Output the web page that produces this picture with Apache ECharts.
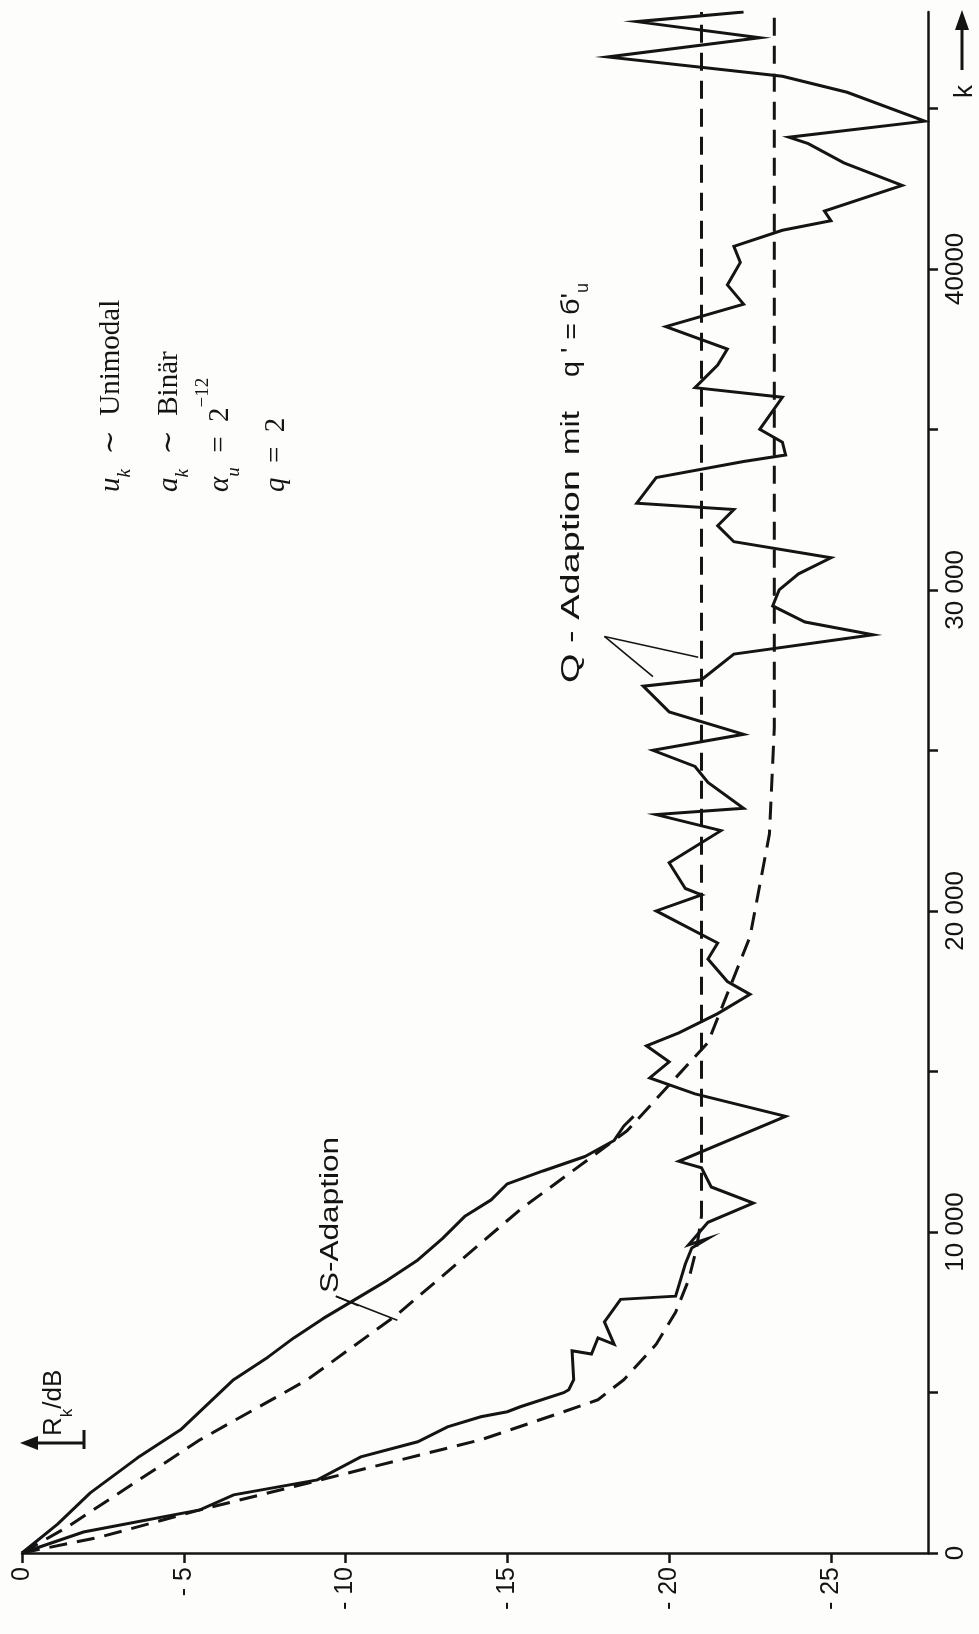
<!DOCTYPE html>
<html>
<head>
<meta charset="utf-8">
<script src="https://cdn.jsdelivr.net/npm/echarts@6/dist/echarts.min.js"></script>
<style>
html, body { margin: 0; padding: 0; background: #fff; }
#chart { width: 979px; height: 1634px; }
</style>
</head>
<body>
<div id="chart"></div>
<script>
// axis ticks
var rTicks = [0, -5, -10, -15, -20, -25];
var kTicks = [0, 5000, 10000, 15000, 20000, 25000, 30000, 35000, 40000, 45000];
var kLabelValues = [0, 10000, 20000, 30000, 40000];
var kLabelTexts = ['0', '10 000', '20 000', '30 000', '40000'];

// [k, R_k in dB]
var sMeasured = [
	[0, 0], [900, -1.1], [1872, -2.11], [2964, -3.57], [3838, -4.9], [5398, -6.54],
	[6100, -7.6], [6700, -8.4], [7300, -9.3], [7900, -10.3], [8500, -11.3], [9100, -12.2],
	[9800, -13.0], [10500, -13.7], [11000, -14.5], [11500, -15.0], [11900, -16.1],
	[12350, -17.4], [12850, -18.3], [13300, -18.6], [13600, -18.9]
];
var sTheory = [
	[0, 0], [811, -1.4], [3526, -5.5], [5398, -8.82], [7430, -11.6], [10700, -15.4],
	[13150, -18.7], [15900, -21.2], [19200, -22.5], [22400, -23.1], [25700, -23.25], [48000, -23.25]
];
var qMeasured = [
	[0, 0], [655, -1.9], [1342, -5.5], [1810, -6.54], [2278, -9.13], [2995, -10.47],
	[3463, -12.23], [3931, -13.15], [4243, -14.18], [4399, -15.0], [4555, -15.4],
	[4992, -16.74], [5086, -16.9], [5400, -17.05], [6300, -17.0], [6200, -17.6], [6700, -17.8],
	[6500, -18.3], [7200, -18.0], [7900, -18.5], [8000, -20.2], [9000, -20.5], [9500, -20.7],
	[9800, -21.2], [9600, -20.6], [10300, -21.2], [10900, -22.6], [11400, -21.3], [12000, -21.0],
	[12200, -20.3], [13600, -23.6], [14300, -20.8], [14800, -19.4], [15300, -20.0], [15800, -19.3],
	[16200, -20.3], [16800, -21.5], [17400, -22.5], [17800, -21.8], [18500, -21.2], [19000, -21.5],
	[20000, -19.6], [20500, -21.0], [20700, -20.5], [21500, -20.0], [22500, -21.6], [23000, -19.6],
	[23200, -22.3], [24000, -21.2], [24500, -20.8], [25000, -19.5], [25500, -22.3], [26200, -20.0],
	[27000, -19.2], [27200, -21.0], [28000, -22.0], [28600, -26.3], [29000, -24.2], [29500, -23.2],
	[30000, -23.4], [30500, -24.0], [31000, -25.0], [31500, -22.0], [32000, -21.5], [32500, -22.0],
	[32700, -19.0], [33500, -19.6], [34000, -22.3], [34200, -23.6], [34600, -23.5], [35000, -22.8],
	[36000, -23.5], [36300, -20.8], [37000, -21.5], [37500, -21.8], [38200, -19.9], [38900, -22.3],
	[39500, -21.8], [40200, -22.2], [40700, -22.0], [41200, -23.5], [41500, -25.0], [41800, -24.8],
	[42600, -27.2], [43300, -25.4], [43900, -24.3], [44100, -23.7], [44600, -27.9], [45500, -25.5],
	[46000, -23.5], [46600, -18.1], [47200, -22.8], [47700, -19.0], [48000, -22.3]
];
var qTheory = [
	[0, 0], [499, -2.42], [1342, -5.5], [2278, -9.23], [2902, -11.7], [3526, -14.18],
	[4399, -16.74], [4774, -17.8], [5398, -18.6], [6500, -19.6], [7500, -20.2], [8500, -20.6],
	[9500, -20.85], [10500, -21.0], [48000, -21.0]
];

var ink = '#141414';
var sans = 'Liberation Sans, Arial, sans-serif';
var serif = 'Liberation Serif, DejaVu Serif, serif';

function toXY(arr) {
	return arr.map(function (p) { return [p[1], p[0]]; });
}

var chartDom = document.getElementById('chart');
var myChart = echarts.init(chartDom, null, { renderer: 'canvas' });

var option = {
	backgroundColor: '#fdfdfc',
	animation: false,
	grid: { left: 22, right: 51, top: 12, bottom: 81 },
	xAxis: {
		type: 'value',
		min: -28,
		max: 0,
		inverse: true,
		position: 'bottom',
		axisLine: { onZero: false, lineStyle: { color: ink, width: 2.5 } },
		axisTick: { customValues: rTicks, length: 10, lineStyle: { color: ink, width: 2.5 } },
		axisLabel: {
			customValues: rTicks,
			rotate: 90,
			margin: 14,
			color: ink,
			fontFamily: sans,
			fontSize: 25,
			formatter: function (v) { return v === 0 ? '0' : '- ' + Math.abs(v); }
		},
		splitLine: { show: false }
	},
	yAxis: {
		type: 'value',
		min: 0,
		max: 48000,
		position: 'right',
		axisLine: { onZero: false, lineStyle: { color: ink, width: 2.5 } },
		axisTick: { customValues: kTicks, length: 10, lineStyle: { color: ink, width: 2.5 } },
		axisLabel: {
			customValues: kLabelValues,
			rotate: 90,
			margin: 15,
			color: ink,
			fontFamily: sans,
			fontSize: 26,
			formatter: function (v) { return kLabelTexts[kLabelValues.indexOf(v)]; }
		},
		splitLine: { show: false }
	},
	series: [
		{
			name: 'S-Adaption',
			type: 'line',
			data: toXY(sMeasured),
			showSymbol: false,
			lineStyle: { color: ink, width: 3 }
		},
		{
			name: 'S-Adaption Theorie',
			type: 'line',
			data: toXY(sTheory),
			showSymbol: false,
			lineStyle: { color: ink, width: 3, type: [18, 10] }
		},
		{
			name: 'Q-Adaption',
			type: 'line',
			data: toXY(qMeasured),
			showSymbol: false,
			lineStyle: { color: ink, width: 3, join: 'miter' }
		},
		{
			name: 'Q-Adaption Theorie',
			type: 'line',
			data: toXY(qTheory),
			showSymbol: false,
			lineStyle: { color: ink, width: 3, type: [18, 10] }
		}
	]
};
myChart.setOption(option);

// annotations; leader ends are given in data space [k, R]
function px(k, r) {
	return myChart.convertToPixel({ gridIndex: 0 }, [r, k]);
}
function leader(from, to) {
	var a = px(from[0], from[1]);
	var b = px(to[0], to[1]);
	return { type: 'line', shape: { x1: a[0], y1: a[1], x2: b[0], y2: b[1] }, style: { stroke: ink, lineWidth: 1.6 } };
}
function vtext(x, y, text, extra) {
	var s = Object.assign({ text: text, fill: ink, align: 'left', verticalAlign: 'middle' }, extra || {});
	return { type: 'text', x: x, y: y, rotation: Math.PI / 2, style: s };
}
// rotated text stretched along its run to a given length
var measureCtx = document.createElement('canvas').getContext('2d');
function fitText(x, y, text, size, len) {
	measureCtx.font = size + 'px ' + sans;
	var w = measureCtx.measureText(text).width;
	var el = vtext(x, y, text, { fontFamily: sans, fontSize: size });
	el.scaleX = len / w;
	return el;
}

var mathRich = {
	i: { fontFamily: serif, fontStyle: 'italic', fontSize: 29, fill: ink },
	sub: { fontFamily: serif, fontStyle: 'italic', fontSize: 19, fill: ink, verticalAlign: 'bottom', padding: [0, 0, -9, 0] },
	sup: { fontFamily: serif, fontSize: 19, fill: ink, verticalAlign: 'top', padding: [-12, 0, 0, 0] },
	t: { fontFamily: serif, fontSize: 29, fill: ink }
};

myChart.setOption({
	graphic: [
		// parameter block
		vtext(111, 492, '{i|u}{sub|k}{t|  ∼  Unimodal}', { rich: mathRich }),
		vtext(169, 492, '{i|a}{sub|k}{t|  ∼  Binär}', { rich: mathRich }),
		vtext(220, 492, '{i|α}{sub|u}{t|  =  2}{sup|−12}', { rich: mathRich }),
		vtext(276, 492, '{i|q}{t|  =  2}', { rich: mathRich }),
		// curve labels
		fitText(331, 1293, 'S-Adaption', 26, 156),
		leader([8000, -9.7], [7700, -10.4]),
		leader([8000, -9.7], [7250, -11.6]),
		fitText(572, 683, 'Q - Adaption', 26, 213),
		fitText(572, 455, 'mit', 26, 44),
		fitText(572, 377, "q ' = б'", 26, 84),
		vtext(583, 293, 'u', { fontFamily: sans, fontSize: 18 }),
		leader([28550, -18.0], [27300, -19.5]),
		leader([28550, -18.0], [27900, -20.9]),
		// axis names
		vtext(54, 1436, '{r|R}{s|k}{r|/dB}', {
			rich: {
				r: { fontFamily: sans, fontSize: 26, fill: ink },
				s: { fontFamily: sans, fontSize: 17, fill: ink, verticalAlign: 'bottom', padding: [0, 0, -9, 0] }
			}
		}),
		{ type: 'line', shape: { x1: 84, y1: 1443, x2: 34, y2: 1443 }, style: { stroke: ink, lineWidth: 3 } },
		{ type: 'polygon', shape: { points: [[20, 1443], [38, 1436], [38, 1450]] }, style: { fill: ink } },
		{ type: 'line', shape: { x1: 84, y1: 1430, x2: 84, y2: 1449 }, style: { stroke: ink, lineWidth: 3 } },
		vtext(965, 98, 'k', { fontFamily: sans, fontSize: 26 }),
		{ type: 'line', shape: { x1: 962, y1: 70, x2: 962, y2: 26 }, style: { stroke: ink, lineWidth: 3 } },
		{ type: 'polygon', shape: { points: [[962, 10], [955, 30], [969, 30]] }, style: { fill: ink } }
	]
});
</script>
</body>
</html>
